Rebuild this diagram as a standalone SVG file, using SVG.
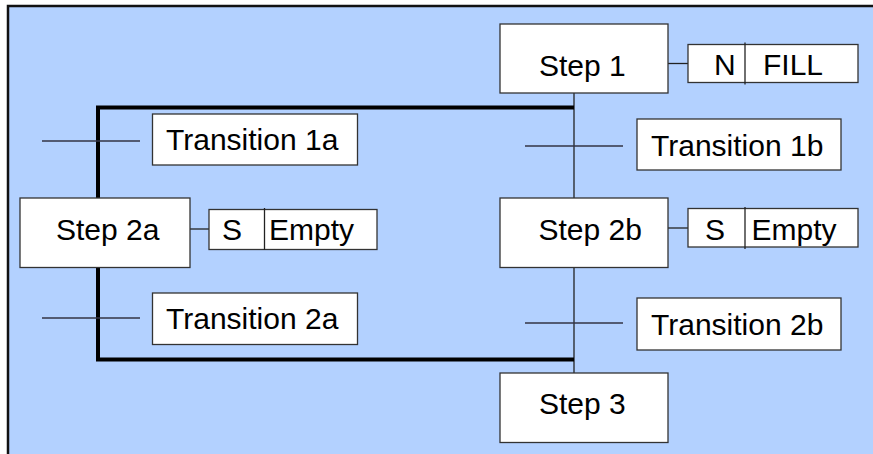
<svg xmlns="http://www.w3.org/2000/svg" width="873" height="454" viewBox="0 0 873 454">
<style>
.box{fill:#fff;stroke:#333;stroke-width:1.3}
.thin{stroke:#222;stroke-width:1.3;fill:none}
.tick{stroke:#334;stroke-width:1.3;fill:none}
.thick{stroke:#000;stroke-width:4;fill:none}
text{font-family:"Liberation Sans",Arial,sans-serif;font-size:30px;fill:#000}
</style>
<rect x="0" y="0" width="873" height="454" fill="#fff"/>
<rect x="8" y="6" width="880" height="460" fill="#B3D1FF" stroke="#111" stroke-width="2.5"/>
<g id="connectors">
<line class="thin" x1="574" y1="93" x2="574" y2="373"/>
<polyline class="thick" points="574,107.5 98,107.5 98,198"/>
<polyline class="thick" points="98,267 98,359.5 574,359.5"/>
<line class="tick" x1="42" y1="141" x2="140" y2="141"/>
<line class="tick" x1="42" y1="318" x2="140" y2="318"/>
<line class="tick" x1="525" y1="146" x2="623" y2="146"/>
<line class="tick" x1="525" y1="323" x2="623" y2="323"/>
<line class="thin" x1="668" y1="63.5" x2="688" y2="63.5"/>
<line class="thin" x1="190" y1="229" x2="209" y2="229"/>
<line class="thin" x1="668" y1="228" x2="688" y2="228"/>
</g>
<g id="step1">
<rect class="box" x="500" y="24" width="168" height="69"/>
<text x="539" y="76">Step 1</text>
</g>
<g id="action1">
<rect class="box" x="688" y="44.5" width="170" height="38"/>
<line class="thin" x1="745" y1="42.5" x2="745" y2="84.5"/>
<text x="714" y="75">N</text>
<text x="763" y="75">FILL</text>
</g>
<g id="transition1a">
<rect class="box" x="152.5" y="114" width="205" height="51"/>
<text x="166" y="150">Transition 1a</text>
</g>
<g id="transition1b">
<rect class="box" x="637" y="119" width="204" height="51"/>
<text x="651" y="156">Transition 1b</text>
</g>
<g id="step2a">
<rect class="box" x="20" y="198" width="170" height="69.5"/>
<text x="56" y="240">Step 2a</text>
</g>
<g id="action2a">
<rect class="box" x="209" y="209.5" width="168" height="40"/>
<line class="thin" x1="264.5" y1="208" x2="264.5" y2="250"/>
<text x="222" y="240">S</text>
<text x="269" y="240">Empty</text>
</g>
<g id="step2b">
<rect class="box" x="500" y="198" width="168" height="69.5"/>
<text x="538.5" y="240">Step 2b</text>
</g>
<g id="action2b">
<rect class="box" x="688" y="208.5" width="170" height="38.5"/>
<line class="thin" x1="745" y1="207" x2="745" y2="249"/>
<text x="705" y="240">S</text>
<text x="751.5" y="240">Empty</text>
</g>
<g id="transition2a">
<rect class="box" x="152.5" y="293" width="205" height="51.5"/>
<text x="166" y="329">Transition 2a</text>
</g>
<g id="transition2b">
<rect class="box" x="637" y="298" width="204" height="52"/>
<text x="651" y="335">Transition 2b</text>
</g>
<g id="step3">
<rect class="box" x="500" y="373" width="168" height="69.5"/>
<text x="539" y="413.5">Step 3</text>
</g>
</svg>
